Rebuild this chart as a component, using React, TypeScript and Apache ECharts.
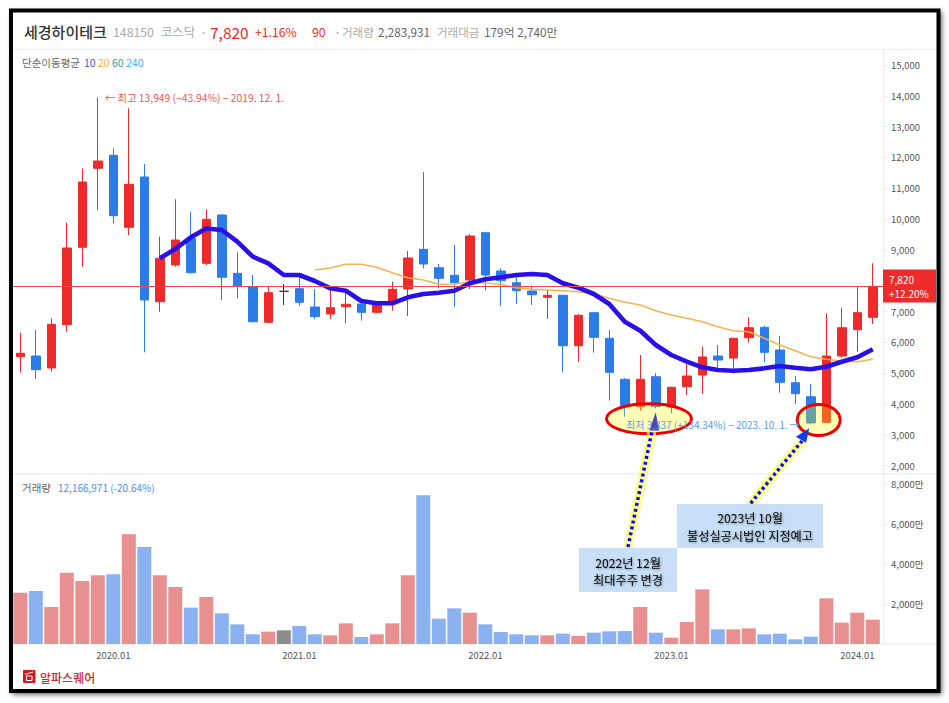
import React, { useEffect, useRef } from "react";
import * as echarts from "echarts";

const FONT = '"Noto Sans CJK KR", "Noto Sans", sans-serif';
const RED = "#ee2a2a";
const BLUE = "#2b7be8";

const months: string[] = [];
for (let y = 2019, m = 7; y < 2024 || m <= 2; m++) {
  if (m > 12) { m = 1; y++; }
  months.push(`${y}.${String(m).padStart(2, "0")}`);
}

// open, close, low, high
const candles: number[][] = [
  [5534, 5645, 5015, 6313], [5557, 5113, 4811, 6401], [5168, 6586, 5048, 6780], [6573, 9062, 6346, 9883],
  [9084, 11203, 8455, 11648], [11648, 11885, 10295, 13949], [12070, 10110, 9863, 12297], [9733, 11129, 9484, 13595],
  [11366, 7374, 5677, 11787], [7319, 8727, 6995, 9428], [8510, 9321, 8455, 10642], [9376, 8260, 8240, 10240],
  [8565, 9993, 8510, 10317], [10132, 8111, 7374, 10160], [8240, 7829, 7429, 8942], [7806, 6670, 6650, 8185],
  [6651, 7611, 6620, 7829], [7656, 7656, 7212, 7893], [7741, 7299, 7189, 8111], [7147, 6832, 6758, 7731],
  [6920, 7125, 6758, 7731], [7157, 7235, 6620, 7731], [7245, 6975, 6702, 7260], [6975, 7267, 6942, 7332],
  [7319, 7721, 7027, 7968], [7731, 8737, 6855, 8964], [9019, 8542, 8403, 11528], [8422, 8078, 7754, 8542],
  [8176, 7936, 7157, 9159], [8023, 9451, 7731, 9516], [9558, 8185, 7676, 9570], [8315, 8000, 7189, 8403],
  [7936, 7676, 7245, 8185], [7666, 7546, 7212, 7838], [7462, 7527, 6758, 7721], [7527, 5891, 5028, 7540],
  [5891, 6878, 5372, 6910], [6962, 6164, 5664, 6990], [6131, 5028, 4107, 6401], [4800, 3944, 3587, 4833],
  [3912, 4800, 3782, 5590], [4885, 3912, 3860, 4996], [3902, 4541, 3698, 4560], [4561, 4908, 4292, 5297],
  [4940, 5525, 4324, 5859], [5557, 5427, 5048, 5914], [5492, 6131, 4996, 6150], [6151, 6475, 5989, 6813],
  [6488, 5677, 5352, 6540], [5752, 4703, 4366, 6206], [4691, 4334, 4000, 4908], [4236, 3383, 3337, 4648],
  [3406, 5557, 3390, 6943], [5557, 6475, 5505, 7125], [6411, 6962, 5697, 7806], [6813, 7820, 6596, 8565],
];

const ma10: (number | null)[] = [
  null, null, null, null, null, null, null, null, null, 8727, 9029, 9409, 9694, 9646, 9266, 8779, 8565, 8185, 8185, 7991,
  7754, 7676, 7342, 7267, 7267, 7462, 7569, 7611, 7676, 7916, 8046, 8111, 8185, 8218, 8185, 7916, 7773, 7569, 7245, 6670,
  6378, 5914, 5590, 5372, 5190, 5103, 5080, 5103, 5158, 5233, 5177, 5125, 5210, 5372, 5515, 5774,
];

const ma20: (number | null)[] = [
  null, null, null, null, null, null, null, null, null, null, null, null, null, null, null, null, null, null, null, 8348,
  8413, 8533, 8533, 8435, 8260, 8098, 8023, 7884, 7893, 7968, 7926, 7884, 7773, 7721, 7699, 7676, 7643, 7569, 7429, 7300,
  7212, 7027, 6888, 6781, 6670, 6508, 6378, 6346, 6131, 5914, 5729, 5534, 5450, 5395, 5372, 5450,
];

// 거래량, in 만
const volumes: number[] = [
  2567, 2650, 1850, 3567, 3150, 3433, 3483, 5483, 4850, 3433, 2850, 1817, 2350, 1533, 983, 483, 617, 683, 900, 483,
  433, 1033, 350, 483, 1033, 3433, 7433, 1267, 1783, 1567, 983, 600, 483, 433, 433, 517, 400, 567, 633, 650,
  1850, 567, 317, 1100, 2733, 733, 733, 783, 483, 517, 233, 367, 2283, 1067, 1567, 1217,
];

// 8,000 lies under the last-price tag in the reference, so it is not drawn
const priceTicks = [2000, 3000, 4000, 5000, 6000, 7000, 9000, 10000, 11000, 12000, 13000, 14000, 15000];
const volumeTicks = [2000, 4000, 6000, 8000];
const lastPrice = 7820;

const headerTexts: [number, string, number, string, number][] = [
  [24, "세경하이테크", 15, "#333333", 500],
  [113, "148150", 12.3, "#aaaaaa", 400],
  [161, "코스닥", 12.3, "#aaaaaa", 400],
  [200, "·", 12.3, "#999999", 400],
  [210, "7,820", 15.5, RED, 400],
  [255, "+1.16%", 12.2, RED, 400],
  [312, "90", 12.3, RED, 400],
  [334, "·", 12.3, "#999999", 400],
  [342, "거래량", 11.5, "#aaaaaa", 400],
  [378, "2,283,931", 11.7, "#666666", 400],
  [437, "거래대금", 11.5, "#aaaaaa", 400],
  [484, "179억 2,740만", 11.8, "#666666", 400],
];

const maLegend: [number, string, string][] = [
  [22, "단순이동평균", "#666666"],
  [84, "10", "#5a4ff0"],
  [98, "20", "#f6b04a"],
  [112, "60", "#2aa198"],
  [126, "240", "#38b6ff"],
];

function text(x: number, y: number, s: string, size: number, fill: string, weight = 400, align = "left", extra: any = {}) {
  return {
    type: "text",
    x,
    y,
    z: 116,
    silent: true,
    style: { text: s, fontFamily: FONT, fontSize: size, fontWeight: weight, fill, align, verticalAlign: "middle", ...extra },
  };
}

function hline(y: number, color: string) {
  return {
    type: "line",
    z: 1,
    silent: true,
    shape: { x1: 13, y1: y, x2: 936, y2: y },
    style: { stroke: color, lineWidth: 1 },
  };
}

function arrow(x1: number, y1: number, x2: number, y2: number, head: number[][], headFill: string) {
  return [
    { type: "line", z: 110, silent: true, shape: { x1, y1, x2, y2 }, style: { stroke: "rgba(255,255,90,0.7)", lineWidth: 9, lineCap: "round" } },
    { type: "line", z: 111, silent: true, shape: { x1, y1, x2, y2 }, style: { stroke: "#0a0aff", lineWidth: 3.5, lineDash: [3, 3] } },
    { type: "polygon", z: 112, silent: true, shape: { points: head }, style: { fill: headFill } },
  ];
}

const noteShadow = { textShadowColor: "rgba(0,0,0,0.4)", textShadowBlur: 2, textShadowOffsetX: 1, textShadowOffsetY: 1 };

export default function App() {
  const ref = useRef<HTMLDivElement>(null);
  useEffect(() => {
    const chart = echarts.init(ref.current!, null, { renderer: "svg" });
    const volumeColor = (c: number[]) => (c[1] === c[0] ? "#8c8c8c" : c[1] > c[0] ? "#e89090" : "#8ab2f0");
    chart.setOption({
      animation: false,
      backgroundColor: "#ffffff",
      grid: [
        { left: 12.55, width: 868, top: 50, height: 424 },
        { left: 12.55, width: 868, top: 474, height: 170 },
      ],
      xAxis: [
        { type: "category", gridIndex: 0, data: months, show: false },
        {
          type: "category",
          gridIndex: 1,
          data: months,
          axisLine: { show: false },
          axisTick: { alignWithLabel: true, length: 3, lineStyle: { color: "#d8d8d8" }, interval: (_: number, v: string) => v.endsWith(".01") },
          axisLabel: {
            interval: (_: number, v: string) => v.endsWith(".01"),
            color: "#555555",
            fontSize: 9.5,
            fontFamily: FONT,
            margin: 6,
          },
        },
      ],
      yAxis: [
        {
          type: "value",
          gridIndex: 0,
          position: "right",
          offset: 2.45,
          min: 1728,
          max: 15487,
          splitLine: { show: false },
          axisLine: { show: true, lineStyle: { color: "#eeeeee" } },
          axisTick: { show: true, length: 4, lineStyle: { color: "#e8e8e8" }, customValues: priceTicks },
          axisLabel: {
            customValues: priceTicks,
            formatter: (v: number) => v.toLocaleString("en-US"),
            color: "#555555",
            fontSize: 9.5,
            fontFamily: FONT,
            margin: 8,
          },
        },
        {
          type: "value",
          gridIndex: 1,
          position: "right",
          offset: 2.45,
          min: 0,
          max: 8500,
          splitLine: { show: false },
          axisLine: { show: true, lineStyle: { color: "#eeeeee" } },
          axisTick: { show: true, length: 4, lineStyle: { color: "#e8e8e8" }, customValues: volumeTicks },
          axisLabel: {
            customValues: volumeTicks,
            formatter: (v: number) => `${v.toLocaleString("en-US")}만`,
            color: "#555555",
            fontSize: 9.5,
            fontFamily: FONT,
            margin: 8,
          },
        },
      ],
      series: [
        {
          type: "candlestick",
          xAxisIndex: 0,
          yAxisIndex: 0,
          barWidth: 9,
          data: candles.map((c) =>
            c[0] === c[1]
              ? { value: c, itemStyle: { color: "#333333", color0: "#333333", borderColor: "#333333", borderColor0: "#333333" } }
              : c,
          ),
          itemStyle: { color: RED, color0: BLUE, borderColor: RED, borderColor0: BLUE, borderWidth: 1 },
        },
        {
          type: "line",
          xAxisIndex: 0,
          yAxisIndex: 0,
          data: ma20,
          showSymbol: false,
          symbol: "none",
          lineStyle: { color: "#f4b44e", width: 1.5 },
          z: 3,
        },
        {
          type: "line",
          xAxisIndex: 0,
          yAxisIndex: 0,
          data: ma10,
          showSymbol: false,
          symbol: "none",
          lineStyle: { color: "#2a10e8", width: 4.6 },
          z: 4,
          markLine: {
            silent: true,
            symbol: "none",
            label: { show: false },
            lineStyle: { color: "#f04848", width: 1, type: "solid" },
            data: [[{ x: 13, yAxis: lastPrice }, { x: 883, yAxis: lastPrice }]],
          },
        },
        {
          type: "bar",
          xAxisIndex: 1,
          yAxisIndex: 1,
          barWidth: 14,
          data: volumes.map((v, i) => ({
            value: v,
            itemStyle: { color: volumeColor(candles[i]) },
          })),
        },
      ],
      graphic: [
        // frame
        {
          type: "rect",
          z: 0,
          silent: true,
          shape: { x: 10, y: 9.5, width: 930, height: 683 },
          style: { fill: "#ffffff", shadowBlur: 5, shadowOffsetX: 2, shadowOffsetY: 2, shadowColor: "rgba(0,0,0,0.6)" },
        },
        hline(49.5, "#eeeeee"),
        hline(474, "#e6e6e6"),
        hline(644, "#e6e6e6"),
        {
          type: "rect",
          z: 120,
          silent: true,
          shape: { x: 11, y: 10.5, width: 927.5, height: 680.5 },
          style: { fill: "none", stroke: "#000000", lineWidth: 4 },
        },
        ...headerTexts.map(([x, s, size, fill, w]) => text(x, 31.5, s, size, fill, w)),
        ...maLegend.map(([x, s, fill]) => text(x, 62, s, 10.5, fill)),
        text(105, 97.5, "← 최고 13,949 (−43.94%) − 2019. 12. 1.", 10.3, "#f0565a"),
        text(626, 424, "최저 3,337 (+134.34%) − 2023. 10. 1. →", 10, "#5a9bf0"),
        text(22, 487.5, "거래량", 10.5, "#666666"),
        text(58, 487.5, "12,166,971 (-20.64%)", 10, "#4a90ee"),
        // last price tag
        { type: "rect", z: 100, silent: true, shape: { x: 883, y: 269.5, width: 53, height: 33 }, style: { fill: RED } },
        text(889, 279.5, "7,820", 10, "#ffffff"),
        text(889, 293, "+12.20%", 10, "#ffffff"),
        // logo
        { type: "rect", z: 100, silent: true, shape: { x: 23, y: 670, width: 12.5, height: 13, r: 1 }, style: { fill: "#cf1a1f" } },
        { type: "rect", z: 101, silent: true, shape: { x: 26.5, y: 676, width: 5.5, height: 4.5 }, style: { fill: "none", stroke: "#ffffff", lineWidth: 1 } },
        { type: "line", z: 101, silent: true, shape: { x1: 25, y1: 674.5, x2: 33, y2: 672 }, style: { stroke: "#ffffff", lineWidth: 1 } },
        text(40, 677, "알파스퀘어", 12, "#d0282c", 500),
        // highlight ellipses
        { type: "ellipse", z: 105, silent: true, shape: { cx: 649, cy: 418.7, rx: 42.5, ry: 15 }, style: { fill: "rgba(255,255,0,0.28)", stroke: "#ee0000", lineWidth: 3 } },
        { type: "ellipse", z: 105, silent: true, shape: { cx: 818.7, cy: 420, rx: 21.5, ry: 15.5 }, style: { fill: "rgba(255,255,0,0.28)", stroke: "#ee0000", lineWidth: 3 } },
        // annotation arrows
        ...arrow(628, 547, 652, 431, [[655.7, 412.5], [649.3, 430.5], [659.3, 430.5]], "#4446b8"),
        ...arrow(750.7, 503.3, 802, 441, [[809.3, 428.3], [796, 436.7], [806, 442.7]], "#0a3cf0"),
        // annotation boxes
        { type: "rect", z: 115, silent: true, shape: { x: 579, y: 548, width: 98, height: 44 }, style: { fill: "#c8dff7" } },
        { type: "rect", z: 115, silent: true, shape: { x: 677, y: 504, width: 146, height: 44 }, style: { fill: "#c8dff7" } },
        text(628, 562.5, "2022년 12월", 12.2, "#000000", 400, "center", noteShadow),
        text(628, 579.5, "최대주주 변경", 12.2, "#000000", 400, "center", noteShadow),
        text(750, 518, "2023년 10월", 12.2, "#000000", 400, "center", noteShadow),
        text(750, 535.5, "불성실공시법인 지정예고", 12.2, "#000000", 400, "center", noteShadow),
      ],
    });
    return () => chart.dispose();
  }, []);
  return <div ref={ref} style={{ position: "absolute", left: 0, top: 0, width: 949, height: 703 }} />;
}
